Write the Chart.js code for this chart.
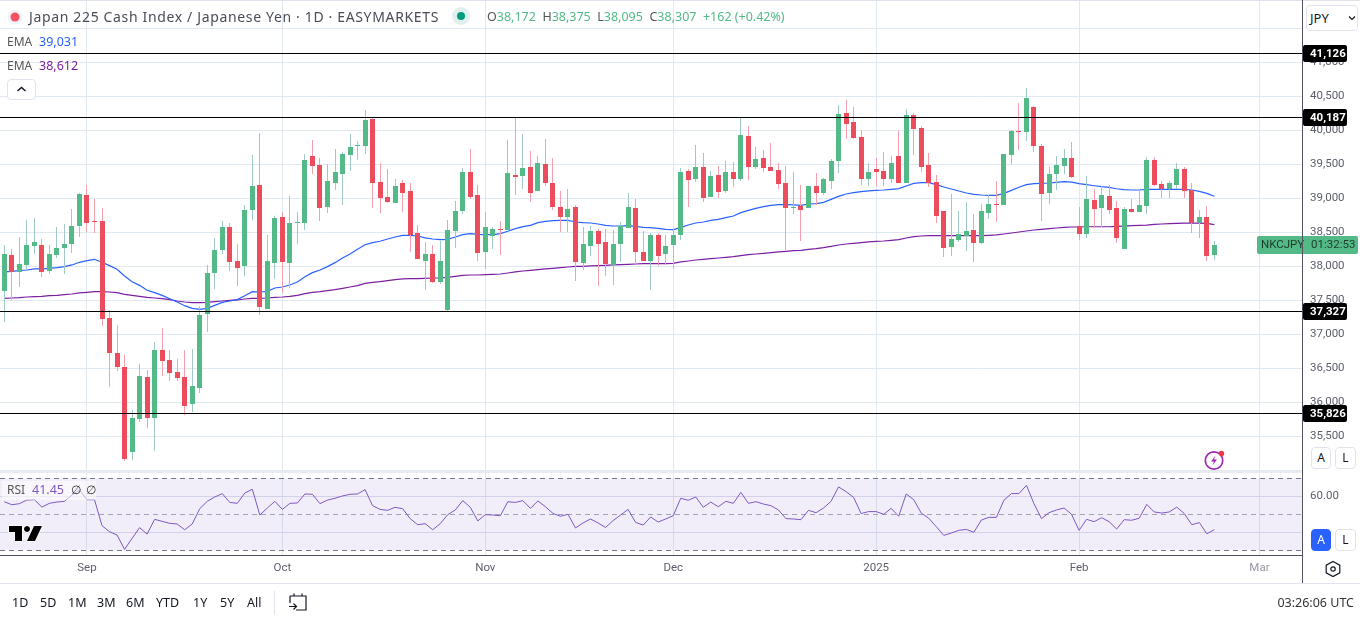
<!DOCTYPE html>
<html>
<head>
<meta charset="utf-8">
<title>Japan 225 Cash Index</title>
<script src="https://cdn.jsdelivr.net/npm/chart.js@4"></script>
<style>
    html, body { margin: 0; padding: 0; background: #fff; }
    body { width: 1360px; height: 621px; position: relative; overflow: hidden; font-family: "Noto Sans", sans-serif; color: #131722; }
    canvas { position: absolute; left: 0; }
    #price-chart { top: 0; }
    #rsi-chart { top: 473px; }
    .txt { position: absolute; white-space: nowrap; line-height: 16px; }
    .rule { position: absolute; }
    .btn { position: absolute; box-sizing: border-box; border: 1px solid #e0e3eb; border-radius: 4px; background: #fff; text-align: center; font-size: 12px; line-height: 20px; }
    svg { position: absolute; overflow: visible; }
</style>
</head>
<body>
<canvas id="price-chart" width="1360" height="473"></canvas>
<canvas id="rsi-chart" width="1360" height="110"></canvas>

<div class="rule" style="left:0;top:0;width:1360px;height:1px;background:#e0e3eb"></div>
<div class="rule" style="left:0;top:471px;width:1302px;height:2px;background:#e8ebf1"></div>
<div class="rule" style="left:0;top:555px;width:1303px;height:1px;background:#50535e"></div>
<div class="rule" style="left:0;top:583px;width:1360px;height:1px;background:#e0e3eb"></div>
<div class="rule" style="left:1302px;top:0;width:1px;height:583px;background:#50535e"></div>

<svg style="left:0;top:0" width="30" height="34"><circle cx="15" cy="17" r="7.5" fill="#f0f3fa"/><circle cx="15" cy="17" r="4.5" fill="#f7525f"/></svg>
<div class="txt" id="title" style="left:29px;top:9px;font-size:14px;letter-spacing:.65px;color:#4a4d57">Japan 225 Cash Index / Japanese Yen · 1D · EASYMARKETS</div>
<svg style="left:448px;top:3px" width="26" height="26"><circle cx="13" cy="13" r="9" fill="#dff1ec"/><circle cx="13" cy="13" r="4" fill="#089981"/></svg>
<div class="txt" style="left:487px;top:9px;font-size:12.5px;color:#53b987"><span style="color:#555">O</span>38,172&nbsp; <span style="color:#555">H</span>38,375&nbsp; <span style="color:#555">L</span>38,095&nbsp; <span style="color:#555">C</span>38,307&nbsp; +162 (+0.42%)</div>

<div class="txt" style="left:7px;top:34px;font-size:12px;color:#555">EMA</div>
<div class="txt" style="left:39px;top:34px;font-size:12.5px;color:#2962ff">39,031</div>
<div class="txt" style="left:7px;top:58px;font-size:12px;color:#555">EMA</div>
<div class="txt" style="left:39px;top:58px;font-size:12.5px;color:#7b1fa2">38,612</div>
<div class="btn" style="left:7px;top:79px;width:29px;height:21px"></div>
<svg style="left:7px;top:79px" width="29" height="21"><path d="M10.5 12 L14.5 8.5 L18.5 12" fill="none" stroke="#131722" stroke-width="1.5"/></svg>

<div class="btn" style="left:1306px;top:5px;width:52px;height:26px"></div>
<div class="txt" style="left:1310px;top:10px;font-size:13px">JPY</div>
<svg style="left:1348px;top:15px" width="10" height="8"><path d="M1 1.5 L4 4.5 L7 1.5" fill="none" stroke="#131722" stroke-width="1.2"/></svg>

<div class="rule" style="left:2px;top:481px;width:94px;height:19px;background:rgba(255,255,255,.55)"></div>
<div class="txt" style="left:7px;top:482px;font-size:12px;color:#555">RSI</div>
<div class="txt" style="left:32px;top:482px;font-size:12.5px;color:#7e57c2">41.45</div>
<div class="txt" style="left:71px;top:482px;font-size:12px;color:#333">∅</div>
<div class="txt" style="left:86px;top:482px;font-size:12px;color:#333">∅</div>
<svg style="left:8px;top:524px" width="36" height="19"><path d="M1 2 H14 V17 H7 V8 H1 Z M19 2 a3 3 0 1 0 .01 0 Z M26 2 H34 L27 17 H19 Z" fill="#000" stroke="#fff" stroke-width="1.5" paint-order="stroke"/></svg>

<svg style="left:1203px;top:449px" width="24" height="24"><circle cx="11" cy="11.5" r="8.7" fill="none" stroke="#9c27b0" stroke-width="1.7"/><path d="M12.5 6.5 L8 12.5 H11 L9.5 16.5 L14 10.5 H11 Z" fill="#9c27b0"/><circle cx="18.5" cy="4.5" r="2.7" fill="#f23645"/></svg>

<div class="btn" style="left:1311px;top:447px;width:20px;height:22px">A</div>
<div class="btn" style="left:1335px;top:447px;width:21px;height:22px">L</div>
<div class="btn" style="left:1311px;top:529px;width:20px;height:22px;background:#2962ff;border-color:#2962ff;color:#fff">A</div>
<div class="btn" style="left:1335px;top:529px;width:21px;height:22px">L</div>
<svg style="left:1323px;top:559px" width="20" height="20"><path d="M10 2.5 L16.8 6.2 V13.8 L10 17.5 L3.2 13.8 V6.2 Z" fill="none" stroke="#131722" stroke-width="1.2"/><circle cx="10" cy="10" r="2.2" fill="none" stroke="#131722" stroke-width="1.2"/></svg>

<div class="txt" style="left:12px;top:595px;font-size:12.5px">1D</div>
<div class="txt" style="left:40px;top:595px;font-size:12.5px">5D</div>
<div class="txt" style="left:68px;top:595px;font-size:12.5px">1M</div>
<div class="txt" style="left:97px;top:595px;font-size:12.5px">3M</div>
<div class="txt" style="left:126px;top:595px;font-size:12.5px">6M</div>
<div class="txt" style="left:156px;top:595px;font-size:12.5px">YTD</div>
<div class="txt" style="left:193px;top:595px;font-size:12.5px">1Y</div>
<div class="txt" style="left:220px;top:595px;font-size:12.5px">5Y</div>
<div class="txt" style="left:247px;top:595px;font-size:12.5px">All</div>
<div class="rule" style="left:274px;top:591px;width:1px;height:24px;background:#e0e3eb"></div>
<svg style="left:288px;top:592px" width="20" height="20"><path d="M2 4 H18 V18 H8 M2 4 V11 M6 1.5 V4 M14 1.5 V4 M1 14.5 H8 M5.5 11.5 L8.5 14.5 L5.5 17.5" fill="none" stroke="#131722" stroke-width="1.2"/></svg>
<div class="txt" style="right:6px;top:595px;font-size:12.5px;color:#333">03:26:06 UTC</div>

<script>
// Time axis: bar index of each month start
const monthIndex = [11, 37, 64, 89, 116, 143, 167];
const monthLabels = ['Sep', 'Oct', 'Nov', 'Dec', '2025', 'Feb', 'Mar'];

// Price axis ticks (the 35,000 and 41,500 gridlines carry no label in the picture)
const priceTicks = [35000, 35500, 36000, 36500, 37000, 37500, 38000, 38500, 39000, 39500, 40000, 40500, 41000, 41500];
const priceTickLabels = ['', '35,500', '36,000', '36,500', '37,000', '37,500', '38,000', '38,500', '39,000', '39,500', '40,000', '40,500', '41,000', ''];

// Horizontal levels drawn on the price pane
const levels = [41126, 40187, 37327, 35826];

// Daily candles
const opens = [
    37637, 38167, 37921, 38020, 38299, 38314, 37931, 38167, 38270, 38328,
    38593, 39049, 38667, 38667, 37240, 36725, 36519, 35269, 35755, 36372,
    35769, 36769, 36622, 36446, 36372, 35975, 36211, 37299, 37902, 38240,
    38578, 38078, 38005, 38828, 39196, 37372, 38049, 38725, 38049, 38637,
    38637, 39622, 39490, 38872, 39225, 39358, 39637, 39770, 39770, 40167,
    39240, 39020, 38931, 39225, 39108, 38490, 38078, 38181, 37770, 37358,
    38520, 38814, 39387, 39049, 38211, 38446, 38549, 38534, 39343, 39328,
    39461, 39108, 39505, 39225, 38872, 38725, 38872, 38049, 38299, 38520,
    38358, 38020, 38328, 38564, 38858, 38211, 38078, 38461, 38181, 38314,
    38461, 39402, 39284, 39461, 39020, 39343, 39108, 39387, 39284, 39917,
    39461, 39593, 39461, 39417, 39225, 38858, 38887, 38858, 39181, 39078,
    39255, 39549, 40255, 40122, 39902, 39284, 39431, 39402, 39284, 39622,
    39225, 40225, 40034, 39490, 39240, 38814, 38284, 38387, 38446, 38534,
    38343, 38784, 38916, 38902, 39637, 39990, 39975, 40343, 39769, 39078,
    39357, 39475, 39592, 38592, 38475, 38975, 38857, 39033, 38857, 38254,
    38842, 38798, 38886, 39563, 39210, 39136, 39195, 39430, 39122, 38636,
    38725, 38172
];
const highs = [
    38314, 38255, 38431, 38681, 38711, 38402, 38314, 38578, 38622, 38843,
    39078, 39196, 38990, 38858, 37358, 37137, 36696, 35887, 36564, 36475,
    36887, 37093, 36769, 36637, 36769, 36784, 37417, 38020, 38417, 38667,
    38637, 38328, 38902, 39637, 39961, 38461, 38740, 38799, 39034, 38799,
    39652, 39858, 39593, 39505, 39725, 39681, 39946, 39843, 40299, 40196,
    39520, 39431, 39284, 39270, 39225, 38608, 38358, 38314, 38372, 38681,
    38961, 39446, 39725, 39196, 38799, 38578, 38667, 39858, 40181, 39946,
    39696, 39622, 39872, 39593, 39108, 39137, 38902, 38578, 38593, 38549,
    38549, 38534, 38652, 39078, 38990, 38520, 38490, 38490, 38461, 38549,
    39446, 39431, 39784, 39667, 39402, 39475, 39549, 39534, 40181, 40064,
    39755, 39711, 39814, 39520, 39475, 39387, 39196, 39181, 39372, 39299,
    39578, 40372, 40446, 40343, 40005, 39519, 39593, 39681, 39622, 39990,
    40314, 40255, 40064, 39666, 39343, 38814, 39064, 38814, 38946, 38769,
    38916, 39049, 39255, 39652, 40005, 40402, 40622, 40358, 39798, 39460,
    39622, 39725, 39828, 38872, 39328, 39136, 39180, 39195, 38960, 38872,
    38989, 39136, 39607, 39607, 39254, 39254, 39519, 39460, 39224, 38828,
    38886, 38375
];
const lows = [
    37186, 37505, 37696, 37946, 38181, 37843, 37887, 38122, 37887, 38196,
    38431, 38505, 38490, 37122, 36225, 36461, 35137, 35152, 35711, 35622,
    35284, 36387, 36314, 36314, 35818, 35858, 36137, 37034, 37667, 38181,
    37931, 37711, 37858, 38681, 37284, 37372, 37814, 37608, 37681, 38328,
    38534, 39358, 38667, 38784, 39122, 38902, 39402, 39564, 39652, 38858,
    38784, 38931, 38931, 38799, 38211, 38108, 37652, 37755, 37740, 37328,
    38270, 38770, 38990, 38078, 37961, 38255, 38167, 38534, 39049, 39137,
    38946, 39108, 39181, 38828, 38505, 38505, 37784, 37946, 38152, 37711,
    37858, 37725, 38064, 38564, 38034, 38078, 37652, 38005, 38020, 37961,
    38387, 38872, 39240, 38946, 39020, 39005, 39078, 39167, 39255, 39270,
    39431, 39387, 39402, 39137, 38240, 38770, 38372, 38858, 38902, 39049,
    39137, 39372, 39872, 39872, 39196, 39181, 39181, 39181, 39225, 39225,
    39225, 39637, 39387, 39166, 38637, 38137, 38152, 38358, 38225, 38064,
    38328, 38696, 38652, 38902, 39505, 39711, 39843, 39681, 38666, 38916,
    39122, 39357, 39298, 38386, 38416, 38563, 38578, 38769, 38342, 38254,
    38798, 38798, 38769, 39180, 39004, 39004, 39136, 39004, 38489, 38416,
    38078, 38095
];
const closes = [
    38181, 37921, 38034, 38314, 38358, 37917, 38181, 38270, 38328, 38593,
    39064, 38637, 38652, 37225, 36725, 36519, 35167, 35769, 36387, 35769,
    36769, 36608, 36431, 36358, 35946, 36240, 37284, 37902, 38240, 38578,
    38064, 37975, 38828, 39181, 37402, 38078, 38711, 38064, 38637, 38652,
    39564, 39475, 38858, 39255, 39387, 39652, 39755, 39784, 40152, 39225,
    39005, 38946, 39181, 39078, 38461, 38108, 38181, 37770, 38078, 38534,
    38814, 39387, 39020, 38196, 38578, 38549, 38534, 39372, 39314, 39446,
    39078, 39520, 39225, 38872, 38725, 38843, 38064, 38328, 38520, 38328,
    38034, 38328, 38593, 38872, 38211, 38078, 38461, 38152, 38299, 38461,
    39387, 39270, 39461, 39005, 39328, 39093, 39387, 39284, 39931, 39461,
    39578, 39446, 39402, 39211, 38858, 38872, 38828, 39181, 39078, 39284,
    39549, 40240, 40093, 39887, 39284, 39387, 39387, 39284, 39519, 39225,
    40225, 40019, 39461, 39225, 38740, 38269, 38402, 38475, 38519, 38343,
    38814, 38916, 38902, 39652, 39990, 39975, 40475, 39769, 39063, 39357,
    39489, 39592, 39313, 38475, 38989, 38842, 39048, 38828, 38416, 38842,
    38798, 38901, 39563, 39195, 39136, 39224, 39430, 39107, 38636, 38725,
    38151, 38307
];

// Moving averages
const emaFast = [
    37917, 37926, 37936, 37946, 37961, 37961, 37970, 37980, 37995, 38020,
    38059, 38083, 38103, 38059, 38010, 37956, 37858, 37774, 37720, 37647,
    37613, 37573, 37524, 37475, 37421, 37382, 37368, 37382, 37426, 37470,
    37490, 37510, 37568, 37627, 37622, 37632, 37681, 37696, 37725, 37770,
    37848, 37907, 37946, 37995, 38054, 38122, 38181, 38250, 38318, 38348,
    38368, 38402, 38431, 38456, 38456, 38446, 38417, 38402, 38392, 38397,
    38431, 38466, 38480, 38470, 38466, 38466, 38480, 38515, 38554, 38583,
    38603, 38642, 38662, 38672, 38676, 38676, 38652, 38642, 38637, 38622,
    38603, 38593, 38593, 38598, 38588, 38573, 38569, 38559, 38544, 38539,
    38569, 38608, 38637, 38652, 38676, 38691, 38716, 38740, 38789, 38823,
    38853, 38877, 38897, 38907, 38907, 38902, 38897, 38916, 38921, 38941,
    38985, 39029, 39063, 39083, 39098, 39108, 39117, 39122, 39132, 39142,
    39181, 39220, 39230, 39230, 39201, 39166, 39137, 39108, 39078, 39059,
    39049, 39044, 39044, 39073, 39117, 39162, 39201, 39215, 39220, 39225,
    39234, 39244, 39239, 39215, 39200, 39185, 39171, 39161, 39141, 39127,
    39122, 39122, 39131, 39131, 39131, 39131, 39131, 39131, 39122, 39102,
    39073, 39031
];
const emaSlow = [
    37529, 37534, 37539, 37549, 37554, 37559, 37568, 37573, 37583, 37593,
    37608, 37618, 37627, 37627, 37622, 37613, 37588, 37573, 37559, 37544,
    37534, 37524, 37510, 37490, 37475, 37466, 37466, 37470, 37480, 37490,
    37500, 37505, 37519, 37529, 37529, 37534, 37544, 37549, 37559, 37573,
    37598, 37618, 37627, 37642, 37657, 37676, 37696, 37716, 37750, 37765,
    37774, 37789, 37804, 37814, 37818, 37818, 37823, 37828, 37828, 37838,
    37853, 37867, 37872, 37872, 37877, 37882, 37887, 37902, 37917, 37931,
    37941, 37951, 37961, 37970, 37980, 37990, 38000, 38000, 38005, 38010,
    38015, 38020, 38024, 38029, 38034, 38039, 38039, 38039, 38039, 38044,
    38064, 38078, 38093, 38103, 38113, 38122, 38132, 38142, 38157, 38171,
    38181, 38191, 38201, 38211, 38220, 38230, 38235, 38250, 38260, 38274,
    38294, 38313, 38328, 38338, 38348, 38358, 38367, 38372, 38382, 38392,
    38416, 38436, 38446, 38451, 38451, 38451, 38451, 38451, 38451, 38451,
    38451, 38456, 38461, 38475, 38490, 38505, 38519, 38534, 38543, 38553,
    38563, 38573, 38578, 38578, 38582, 38582, 38582, 38582, 38587, 38592,
    38597, 38602, 38607, 38617, 38622, 38627, 38632, 38636, 38636, 38636,
    38632, 38612
];

// RSI pane
const rsiValues = [
    57.0, 55.3, 55.9, 57.9, 58.1, 54.0, 56.1, 56.8, 57.2, 60.7,
    63.5, 58.1, 58.1, 43.7, 40.3, 38.5, 30.5, 36.6, 42.6, 39.0,
    47.2, 46.1, 45.0, 44.6, 41.4, 44.6, 53.1, 57.2, 59.6, 61.5,
    56.6, 56.1, 61.8, 63.9, 49.6, 53.5, 57.2, 52.7, 56.1, 56.3,
    61.3, 61.1, 55.9, 57.9, 58.9, 60.2, 61.1, 61.3, 63.7, 54.8,
    52.7, 52.2, 53.9, 53.1, 47.6, 44.2, 44.8, 41.4, 44.8, 49.8,
    52.4, 57.6, 53.9, 46.3, 49.8, 49.6, 49.2, 57.0, 56.6, 57.6,
    53.3, 57.4, 54.2, 50.5, 48.9, 50.0, 42.4, 45.2, 47.4, 45.2,
    42.7, 46.5, 49.6, 52.7, 45.5, 44.0, 48.5, 45.7, 47.4, 49.2,
    58.9, 57.8, 59.6, 53.9, 56.8, 54.2, 57.2, 56.1, 62.2, 56.1,
    57.0, 55.7, 54.8, 52.4, 47.6, 47.4, 47.0, 52.2, 50.9, 53.5,
    57.2, 65.2, 62.6, 59.4, 50.4, 51.5, 51.5, 50.0, 53.3, 48.9,
    61.3, 58.1, 50.7, 47.8, 43.1, 38.3, 39.6, 41.1, 41.6, 40.0,
    46.8, 48.3, 48.3, 57.8, 61.5, 61.5, 66.1, 55.9, 47.6, 50.9,
    52.4, 53.5, 50.0, 41.1, 47.2, 45.9, 48.1, 45.9, 41.8, 47.0,
    46.7, 47.8, 55.5, 51.3, 50.7, 51.3, 54.0, 50.4, 44.2, 45.4,
    39.2, 41.45
];
const rsiTicks = [70, 60, 50, 40, 30];

const UP = '#53b987';
const DOWN = '#eb4d5c';
const UP_WICK = '#9fc9c6';
const DOWN_WICK = '#f5a0ac';
const GRID = '#e1e9f0';
const FONT = 'Roboto, sans-serif';
const AXIS_TEXT = '#5d606b';

// Visible range of the shared time axis
const xMin = -0.572;
const xMax = 172.66;

const isUp = i => closes[i] >= opens[i];
const wickData = closes.map((c, i) => ({ x: i, y: [lows[i], highs[i]] }));
const bodyData = closes.map((c, i) => ({ x: i, y: [opens[i], c] }));
const toPoints = values => values.map((y, x) => ({ x, y }));

// Axis labels must not shrink the plot area
const noPadding = scale => {
    scale.paddingTop = 0;
    scale.paddingBottom = 0;
    scale.paddingLeft = 0;
    scale.paddingRight = 0;
};

// Keep bars and level lines on whole pixels so they stay crisp
const snapPlugin = {
    id: 'snap',
    afterDatasetsUpdate(chart) {
        chart.getSortedVisibleDatasetMetas().forEach(meta => {
            if (meta.type === 'bar') {
                meta.data.forEach(el => {
                    el.x = Math.floor(el.x) + 0.5;
                    el.y = Math.round(el.y);
                    el.base = Math.round(el.base);
                    if (el.y === el.base) el.base += 1;
                });
            } else if (meta._dataset.isLevel) {
                meta.data.forEach(el => { el.y = Math.round(el.y) - 0.5; });
            }
        });
    }
};

// Price tags on the right axis
const tagsPlugin = {
    id: 'tags',
    afterDraw(chart) {
        const { ctx, scales } = chart;
        const y = scales.y;
        ctx.save();
        ctx.textBaseline = 'middle';
        const lastY = Math.round(y.getPixelForValue(closes[closes.length - 1]));
        ctx.fillStyle = UP;
        ctx.beginPath();
        ctx.roundRect(1257, lastY - 9, 101, 18, 2);
        ctx.fill();
        ctx.fillStyle = '#1d3b2c';
        ctx.font = '11.5px ' + FONT;
        ctx.textAlign = 'left';
        ctx.fillText('NKCJPY', 1261, lastY);
        ctx.fillText('01:32:53', 1311, lastY);
        levels.forEach(level => {
            const py = Math.round(y.getPixelForValue(level)) - 1;
            ctx.fillStyle = '#000';
            ctx.beginPath();
            ctx.roundRect(1303, py - 8, 44, 17, 2);
            ctx.fill();
            ctx.fillStyle = '#fff';
            ctx.font = 'bold 11.5px ' + FONT;
            ctx.fillText(level.toLocaleString('en-US'), 1310, py + 1);
        });
        ctx.restore();
    }
};

const sharedX = {
    type: 'linear',
    min: xMin,
    max: xMax,
    offset: false,
    afterBuildTicks: scale => { scale.ticks = monthIndex.map(value => ({ value })); },
    grid: { color: GRID, drawTicks: false, offset: false },
    border: { display: false }
};

new Chart(document.getElementById('price-chart'), {
    data: {
        datasets: [
            ...levels.map(level => ({
                type: 'line',
                isLevel: true,
                data: [{ x: xMin, y: level }, { x: xMax, y: level }],
                borderColor: '#000',
                borderWidth: 1.2,
                pointRadius: 0,
                order: 0
            })),
            {
                type: 'bar',
                label: 'Body',
                data: bodyData,
                backgroundColor: bodyData.map((d, i) => isUp(i) ? UP : DOWN),
                barThickness: 5,
                grouped: false,
                inflateAmount: 0,
                order: 1
            },
            {
                type: 'bar',
                label: 'Wick',
                data: wickData,
                backgroundColor: wickData.map((d, i) => isUp(i) ? UP_WICK : DOWN_WICK),
                barThickness: 1,
                grouped: false,
                inflateAmount: 0,
                order: 2
            },
            {
                type: 'line',
                label: 'EMA fast',
                data: toPoints(emaFast),
                borderColor: '#2962ff',
                borderWidth: 1.2,
                pointRadius: 0,
                order: 3
            },
            {
                type: 'line',
                label: 'EMA slow',
                data: toPoints(emaSlow),
                borderColor: '#7b1fa2',
                borderWidth: 1.2,
                pointRadius: 0,
                order: 4
            }
        ]
    },
    options: {
        responsive: false,
        animation: false,
        layout: { padding: { top: 1, bottom: 2, left: 0, right: 0 } },
        plugins: { legend: { display: false }, tooltip: { enabled: false } },
        scales: {
            x: {
                ...sharedX,
                ticks: { display: false },
                afterFit: scale => { scale.height = 0; noPadding(scale); }
            },
            y: {
                position: 'right',
                min: 34990,
                max: 41901.5,
                afterFit: scale => { scale.width = 58; noPadding(scale); },
                afterBuildTicks: scale => { scale.ticks = priceTicks.map(value => ({ value })); },
                grid: { color: GRID, drawTicks: false },
                border: { display: false },
                ticks: {
                    autoSkip: false,
                    padding: 8,
                    color: AXIS_TEXT,
                    font: { family: FONT, size: 11.5 },
                    callback: value => priceTickLabels[priceTicks.indexOf(value)]
                }
            }
        }
    },
    plugins: [snapPlugin, tagsPlugin]
});

new Chart(document.getElementById('rsi-chart'), {
    data: {
        datasets: [
            {
                type: 'line',
                label: 'RSI',
                data: toPoints(rsiValues),
                borderColor: '#7e57c2',
                borderWidth: 1,
                pointRadius: 0,
                order: 0
            },
            {
                type: 'line',
                label: 'Band',
                data: [{ x: xMin, y: rsiTicks[0] }, { x: xMax, y: rsiTicks[0] }],
                borderWidth: 0,
                pointRadius: 0,
                fill: { value: rsiTicks[4] },
                backgroundColor: 'rgba(126, 87, 194, 0.1)',
                order: 1
            }
        ]
    },
    options: {
        responsive: false,
        animation: false,
        layout: { padding: 0 },
        plugins: { legend: { display: false }, tooltip: { enabled: false } },
        scales: {
            x: {
                ...sharedX,
                afterFit: scale => { scale.height = 28; noPadding(scale); },
                ticks: {
                    autoSkip: false,
                    maxRotation: 0,
                    padding: 6,
                    color: ctx => monthLabels[monthIndex.indexOf(ctx.tick.value)] === 'Mar' ? '#9598a1' : AXIS_TEXT,
                    font: { family: FONT, size: 11.5 },
                    callback: value => monthLabels[monthIndex.indexOf(value)]
                }
            },
            y: {
                position: 'right',
                min: 27.39,
                max: 72.94,
                afterFit: scale => { scale.width = 58; noPadding(scale); },
                afterBuildTicks: scale => { scale.ticks = rsiTicks.map(value => ({ value })); },
                grid: {
                    drawTicks: false,
                    color: ctx => {
                        const v = ctx.tick.value;
                        if (v === 70 || v === 30) return '#787b86';
                        if (v === 50) return '#a9abb3';
                        return '#dcdfee';
                    }
                },
                border: {
                    display: false,
                    dash: ctx => ctx.tick.value % 20 === 10 ? [5, 4] : []
                },
                ticks: {
                    autoSkip: false,
                    padding: 8,
                    color: AXIS_TEXT,
                    font: { family: FONT, size: 11.5 },
                    callback: value => value === 60 ? '60.00' : ''
                }
            }
        }
    },
    plugins: [snapPlugin]
});
</script>
</body>
</html>
